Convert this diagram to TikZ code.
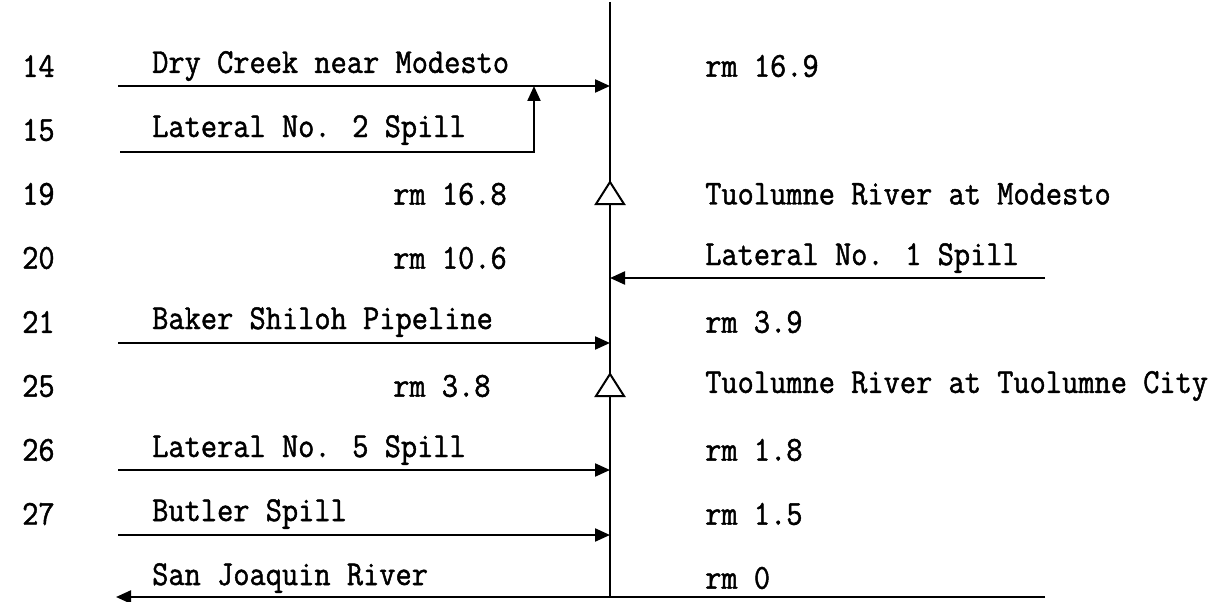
\documentclass[tikz,border=0pt]{standalone}
\usepackage{fontspec}
\newfontfamily\twfont{Latin Modern Mono}[FakeBold=1.3,FakeStretch=0.9]
\usetikzlibrary{arrows.meta,calc}
\begin{document}
\begin{tikzpicture}[x=1pt,y=-1pt,
  lbl/.style={anchor=west,inner sep=0pt,font=\twfont\fontsize{35}{40}\selectfont},
  flow/.style={line width=2.2pt,-{Triangle[length=15pt,width=13pt]}},
  plain/.style={line width=2.2pt},
  gauge/.style={line width=2pt,fill=white,line join=miter}]
\useasboundingbox (0,0) rectangle (1227,602);
% numbers
\node[lbl] (n14) at (22,66) {14};
\node[lbl] (n15) at (22,130) {15};
\node[lbl] (n19) at (22,194) {19};
\node[lbl] (n20) at (22,258) {20};
\node[lbl] (n21) at (22,322) {21};
\node[lbl] (n25) at (22,386) {25};
\node[lbl] (n26) at (22,450) {26};
\node[lbl] (n27) at (22,514) {27};
% left labels
\node[lbl] (dry) at (152,66) {Dry Creek near Modesto};
\node[lbl] (lat2) at (152,130) {Lateral No. 2 Spill};
\node[lbl] (baker) at (152,322) {Baker Shiloh Pipeline};
\node[lbl] (lat5) at (152,450) {Lateral No. 5 Spill};
\node[lbl] (butler) at (152,514) {Butler Spill};
\node[lbl] (sj) at (152,578) {San Joaquin River};
\node[lbl] (rm168) at (393,194) {rm 16.8};
\node[lbl] (rm106) at (393,258) {rm 10.6};
\node[lbl] (rm38) at (393,386) {rm 3.8};
% right labels
\node[lbl] (rm169) at (705,66) {rm 16.9};
\node[lbl] (tmod) at (705,194) {Tuolumne River at Modesto};
\node[lbl] (lat1) at (705,258) {Lateral No. 1 Spill};
\node[lbl] (rm39) at (705,322) {rm 3.9};
\node[lbl] (tcity) at (705,386) {Tuolumne River at Tuolumne City};
\node[lbl] (rm18) at (705,450) {rm 1.8};
\node[lbl] (rm15) at (705,514) {rm 1.5};
\node[lbl] (rm0) at (705,578) {rm 0};
% coordinates
\coordinate (top) at (610,2);
\coordinate (bot) at (610,597);
\coordinate (dryL) at (118,86);
\coordinate (dryR) at (610,86);
\coordinate (lat2L) at (120,152);
\coordinate (lat2C) at (534,152);
\coordinate (lat2T) at (534,86);
\coordinate (lat1R) at (1045,278);
\coordinate (lat1L) at (610,278);
\coordinate (bakerL) at (118,343);
\coordinate (bakerR) at (610,343);
\coordinate (lat5L) at (118,470);
\coordinate (lat5R) at (610,470);
\coordinate (butlerL) at (118,535);
\coordinate (butlerR) at (610,535);
\coordinate (sjR) at (1045,597);
\coordinate (sjL) at (116,597);
\coordinate (g1) at (610,193);
\coordinate (g2) at (610,385);
% main river
\draw[plain] (top) -- (bot);
\draw[flow] (dryL) -- (dryR);
\draw[flow] (lat2L) -- (lat2C) -- (lat2T);
\draw[flow] (lat1R) -- (lat1L);
\draw[flow] (bakerL) -- (bakerR);
\draw[flow] (lat5L) -- (lat5R);
\draw[flow] (butlerL) -- (butlerR);
\draw[flow] (sjR) -- (sjL);
% gauges
\draw[gauge] ($(g1)+(-14,11)$) -- ($(g1)+(0,-11)$) -- ($(g1)+(14,11)$) -- cycle;
\draw[gauge] ($(g2)+(-14,11)$) -- ($(g2)+(0,-11)$) -- ($(g2)+(14,11)$) -- cycle;
\end{tikzpicture}
\end{document}
